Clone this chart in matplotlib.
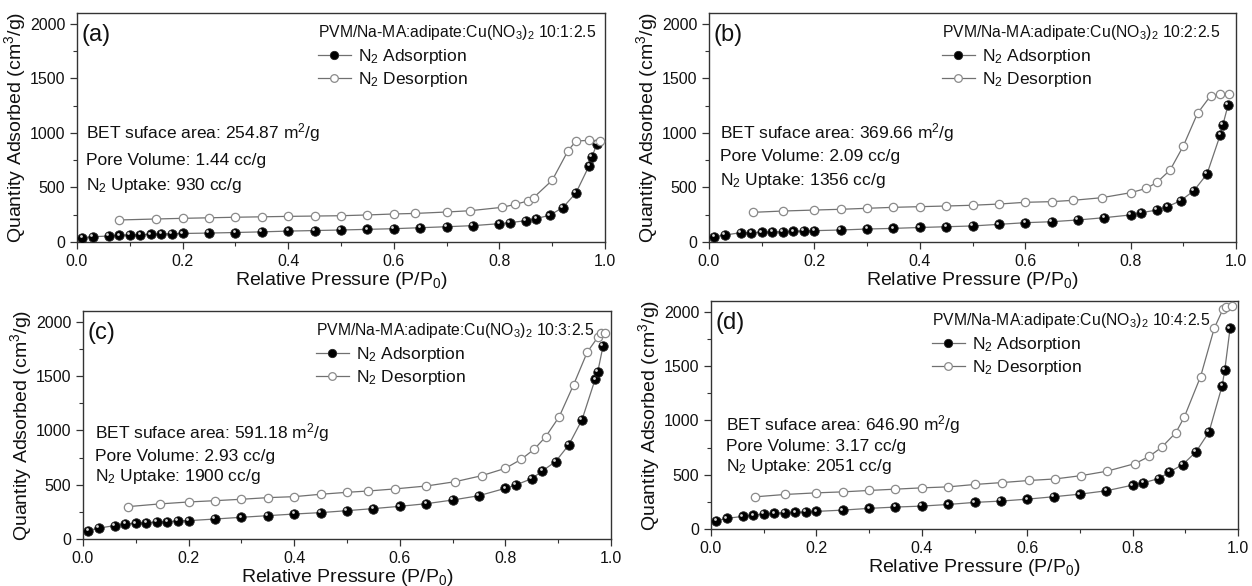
import matplotlib
matplotlib.use("Agg")
import matplotlib.pyplot as plt
from matplotlib.ticker import MultipleLocator
from matplotlib.transforms import ScaledTranslation
from matplotlib.lines import Line2D

plt.rcParams["font.family"] = ["Liberation Sans", "DejaVu Sans"]
plt.rcParams["mathtext.fontset"] = "custom"
plt.rcParams["mathtext.rm"] = "Liberation Sans"
plt.rcParams["mathtext.it"] = "Liberation Sans:italic"
plt.rcParams["mathtext.bf"] = "Liberation Sans:bold"

# ---- isotherm data (relative pressure P/P0, quantity adsorbed cm3/g) ----
p_ads = [0.01, 0.03, 0.06, 0.08, 0.10, 0.12, 0.14, 0.16, 0.18, 0.20, 0.25,
         0.30, 0.35, 0.40, 0.45, 0.50, 0.55, 0.60, 0.65, 0.70, 0.75, 0.80,
         0.82, 0.85, 0.87, 0.895, 0.92, 0.945, 0.97, 0.975, 0.985]

q_ads_a = [40, 48, 55, 62, 64, 68, 70, 73, 76, 78, 82, 87, 93, 100, 105, 110,
           116, 122, 131, 140, 150, 168, 178, 195, 215, 245, 315, 450, 700, 780, 900]
q_ads_b = [49, 64, 85, 87, 89, 92, 94, 97, 101, 104, 110, 119, 125, 133, 140,
           147, 162, 177, 186, 202, 223, 248, 269, 293, 324, 379, 470, 624, 981, 1073, 1256]
q_ads_c = [77, 101, 123, 138, 145, 150, 157, 160, 166, 169, 184, 200, 215, 230,
           243, 261, 280, 301, 325, 359, 399, 467, 498, 556, 627, 713, 866, 1097,
           1472, 1542, 1779]
q_ads_d = [76, 98, 116, 128, 138, 144, 150, 153, 156, 162, 174, 190, 202, 211,
           226, 245, 257, 275, 297, 321, 352, 404, 425, 465, 526, 593, 709, 893,
           1321, 1468, 1850]

p_des_a = [0.08, 0.15, 0.20, 0.25, 0.30, 0.35, 0.40, 0.45, 0.50, 0.55, 0.60, 0.64,
           0.70, 0.745, 0.805, 0.83, 0.855, 0.865, 0.90, 0.93, 0.945, 0.97, 0.99]
q_des_a = [202, 211, 217, 222, 227, 231, 235, 238, 241, 248, 257, 262, 275, 287,
           318, 345, 378, 408, 566, 837, 926, 932, 930]

p_des_b = [0.083, 0.14, 0.20, 0.25, 0.30, 0.35, 0.40, 0.45, 0.50, 0.55, 0.60, 0.65,
           0.69, 0.745, 0.80, 0.83, 0.85, 0.875, 0.90, 0.927, 0.952, 0.97, 0.986]
q_des_b = [272, 284, 293, 300, 309, 318, 324, 330, 337, 348, 364, 370, 382, 406,
           452, 492, 547, 660, 880, 1180, 1342, 1354, 1356]

p_des_c = [0.085, 0.145, 0.20, 0.25, 0.30, 0.35, 0.40, 0.45, 0.50, 0.54, 0.59, 0.65,
           0.705, 0.755, 0.80, 0.83, 0.855, 0.876, 0.902, 0.929, 0.955, 0.976, 0.982, 0.989]
q_des_c = [298, 323, 341, 353, 366, 381, 390, 412, 430, 442, 461, 488, 528, 583,
           651, 734, 829, 940, 1127, 1419, 1721, 1865, 1896, 1900]

p_des_d = [0.083, 0.14, 0.20, 0.25, 0.30, 0.35, 0.40, 0.45, 0.50, 0.553, 0.604, 0.653,
           0.703, 0.751, 0.805, 0.832, 0.855, 0.882, 0.898, 0.929, 0.955, 0.972, 0.977, 0.988]
q_des_d = [296, 318, 333, 342, 355, 367, 379, 388, 410, 428, 447, 461, 492, 532,
           603, 670, 752, 887, 1030, 1404, 1850, 2030, 2046, 2051]

panel_tags = ["(a)", "(b)", "(c)", "(d)"]
ratios = ["10:1:2.5", "10:2:2.5", "10:3:2.5", "10:4:2.5"]
bet_areas = ["254.87", "369.66", "591.18", "646.90"]
pore_volumes = ["1.44", "2.09", "2.93", "3.17"]
uptakes = ["930", "1356", "1900", "2051"]

# ---- layout ----
fig = plt.figure(figsize=(12.52, 5.86), dpi=100)
W, H = 1252, 586
boxes = [(77, 13, 605, 242), (709, 13, 1236, 242),
         (83, 311, 611, 539), (711, 301, 1238, 529)]
legend_x = [0.456, 0.442, 0.441, 0.419]
info_x = [0.017, 0.021, 0.023, 0.028]
info_y = [(0.476, 0.358, 0.245), (0.480, 0.372, 0.268),
          (0.465, 0.364, 0.272), (0.456, 0.360, 0.272)]

ads_sets = [q_ads_a, q_ads_b, q_ads_c, q_ads_d]
des_sets = [(p_des_a, q_des_a), (p_des_b, q_des_b),
            (p_des_c, q_des_c), (p_des_d, q_des_d)]

LINE_C = "#707070"
TXT = "#111111"

for i in range(4):
    x0, y0, x1, y1 = boxes[i]
    ax = fig.add_axes([x0 / W, 1 - y1 / H, (x1 - x0) / W, (y1 - y0) / H])

    p_d, q_d = des_sets[i]
    ax.plot(p_ads, ads_sets[i], color=LINE_C, lw=0.9, marker="o", ms=6.8,
            mfc="black", mec="#222222", mew=0.6, zorder=3)
    # glossy highlight on the filled spheres
    hl = ax.transData + ScaledTranslation(-1.6 / 100, 1.6 / 100, fig.dpi_scale_trans)
    ax.plot(p_ads, ads_sets[i], ls="none", marker="o", ms=2.0,
            mfc="#d8d8d8", mec="none", transform=hl, zorder=4)
    ax.plot(p_d, q_d, color=LINE_C, lw=0.9, marker="o", ms=6.0,
            mfc="white", mec="#8a8a8a", mew=0.9, zorder=3)

    ax.set_xlim(0, 1.0)
    ax.set_ylim(0, 2100)
    ax.xaxis.set_major_locator(MultipleLocator(0.2))
    ax.xaxis.set_minor_locator(MultipleLocator(0.1))
    ax.yaxis.set_major_locator(MultipleLocator(500))
    ax.yaxis.set_minor_locator(MultipleLocator(250))
    ax.xaxis.set_major_formatter(plt.FuncFormatter(lambda v, _: f"{v:.1f}"))
    ax.tick_params(which="major", direction="out", length=5, width=0.9,
                   labelsize=11.5, colors="#333333", labelcolor=TXT)
    ax.tick_params(which="minor", direction="out", length=3, width=0.8,
                   colors="#333333")
    for s in ax.spines.values():
        s.set_color("#333333")
        s.set_linewidth(1.0)

    ax.set_xlabel("Relative Pressure (P/P$_0$)", fontsize=14, color=TXT, labelpad=1)
    ax.set_ylabel("Quantity Adsorbed (cm$^3$/g)", fontsize=14, color=TXT, labelpad=1)

    ax.text(0.008, 0.905, panel_tags[i], transform=ax.transAxes,
            fontsize=17, color=TXT, va="center", ha="left")

    lines = [f"BET suface area: {bet_areas[i]} m$^2$/g",
             f"Pore Volume: {pore_volumes[i]} cc/g",
             f"N$_2$ Uptake: {uptakes[i]} cc/g"]
    for txt, yy in zip(lines, info_y[i]):
        ax.text(info_x[i], yy, txt, transform=ax.transAxes, fontsize=12.5,
                color=TXT, va="center", ha="left")

    h_ads = Line2D([], [], color=LINE_C, lw=0.9, marker="o", ms=6.0,
                   mfc="black", mec="#222222", mew=0.6)
    h_des = Line2D([], [], color=LINE_C, lw=0.9, marker="o", ms=5.5,
                   mfc="white", mec="#8a8a8a", mew=0.9)
    leg = ax.legend([h_ads, h_des], ["N$_2$ Adsorption", "N$_2$ Desorption"],
                    title=f"PVM/Na-MA:adipate:Cu(NO$_3$)$_2$ {ratios[i]}",
                    title_fontsize=11.3, fontsize=12.5, loc="upper left",
                    bbox_to_anchor=(legend_x[i], 0.955), frameon=False,
                    borderpad=0, borderaxespad=0, handlelength=1.9,
                    handletextpad=0.4, labelspacing=0.25, numpoints=1,
                    alignment="left")
    leg.get_title().set_color(TXT)
    for t in leg.get_texts():
        t.set_color(TXT)

fig.savefig("out.png", dpi=100, facecolor="white")
